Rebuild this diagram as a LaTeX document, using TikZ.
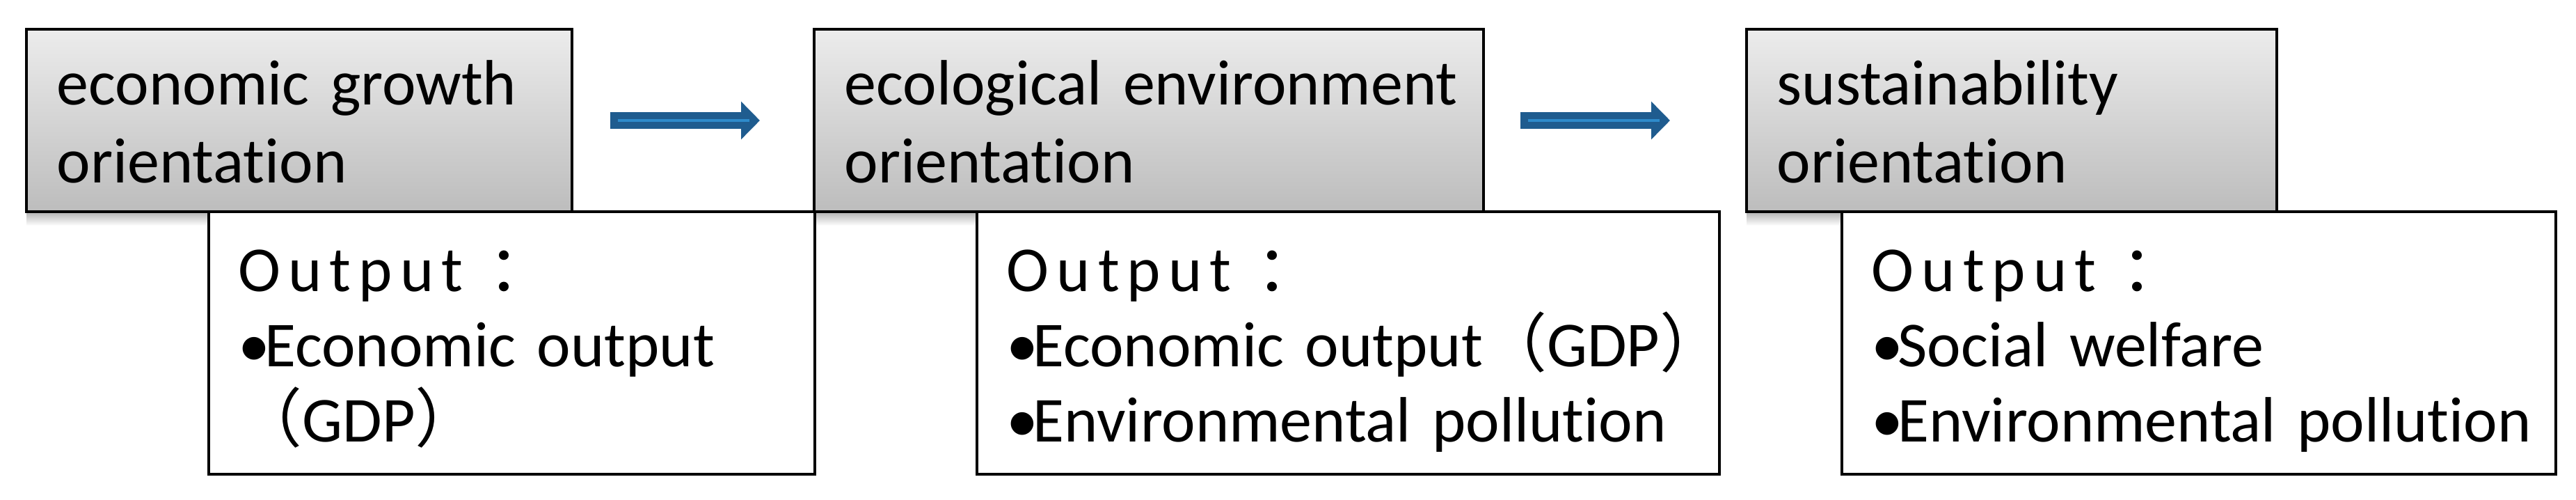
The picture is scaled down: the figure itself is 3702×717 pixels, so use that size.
\documentclass[tikz,border=0pt]{standalone}
\usepackage{fontspec}
\setmainfont{Carlito}[Ligatures={NoCommon}]
\newfontfamily\cjkfont{Noto Sans CJK SC}
\newfontfamily\spacedfont{Carlito}[LetterSpace=12]
\usetikzlibrary{arrows.meta,fit,fadings,positioning}
\definecolor{arrowblue}{HTML}{1F5C8F}
\definecolor{arrowlight}{HTML}{2E8BCB}
\newcommand{\outlabel}{{\spacedfont Output}\hspace{9pt}{\cjkfont ：}}
\newcommand{\bul}{•\kern-2pt}

\begin{document}
\begin{tikzpicture}[x=0.25pt,y=-0.25pt,
    graybox/.style={draw, line width=1.1pt, inner sep=0pt, outer sep=0pt, top color=gray!15, bottom color=gray!52},
    outbox/.style={draw, line width=1pt, inner sep=0pt, outer sep=0pt, fill=white},
    headtext/.style={anchor=base west, inner sep=0pt, align=left, text width=300pt, font=\fontsize{23}{28.25}\selectfont},
    outtext/.style={anchor=base west, inner sep=0pt, align=left, text width=300pt, font=\fontsize{23}{27}\selectfont},
    flowarrow/.style={draw=arrowblue, line width=6pt, -{Triangle[length=6.75pt,width=13.25pt]}},
    flowline/.style={draw=arrowlight, line width=1pt}]
    \useasboundingbox (0,0) rectangle (3702,717);

    % shadows
    \foreach \l/\r in {38/822,1170/2132,2510/3272}
      \fill[black, opacity=0.3, path fading=south] (\l,304) rectangle (\r,324);

    % output boxes
    \node[outbox, fit={(300,304) (1171,681)}] (o1) {};
    \node[outbox, fit={(1404,304) (2471,681)}] (o2) {};
    \node[outbox, fit={(2647,304) (3673,681)}] (o3) {};

    % orientation boxes
    \node[graybox, fit={(38,42) (822,304)}] (g1) {};
    \node[graybox, fit={(1170,42) (2132,304)}] (g2) {};
    \node[graybox, fit={(2510,42) (3272,304)}] (g3) {};

    % box texts
    \node[headtext] (h1) at ([shift={(43,108)}]g1.north west) {economic growth\\orientation};
    \node[headtext] (h2) at ([shift={(43,108)}]g2.north west) {ecological environment\\orientation};
    \node[headtext] (h3) at ([shift={(43,108)}]g3.north west) {sustainability\\orientation};

    \node[outtext] (t1) at ([shift={(42,114)}]o1.north west) {\outlabel\\\bul Economic output\\{\cjkfont （}GDP{\cjkfont ）}};
    \node[outtext] (t2) at ([shift={(42,114)}]o2.north west) {\outlabel\\\bul Economic output{\cjkfont （}GDP{\cjkfont ）}\\\bul Environmental pollution};
    \node[outtext] (t3) at ([shift={(42,114)}]o3.north west) {\outlabel\\\bul Social welfare\\\bul Environmental pollution};

    % arrows
    \draw[flowarrow, shorten <=13.75pt, shorten >=19.5pt] (g1.east) -- (g2.west);
    \draw[flowline, shorten <=16.5pt, shorten >=23.25pt] (g1.east) -- (g2.west);
    \draw[flowarrow, shorten <=13.25pt, shorten >=27.5pt] (g2.east) -- (g3.west);
    \draw[flowline, shorten <=16pt, shorten >=31.25pt] (g2.east) -- (g3.west);
\end{tikzpicture}
\end{document}
